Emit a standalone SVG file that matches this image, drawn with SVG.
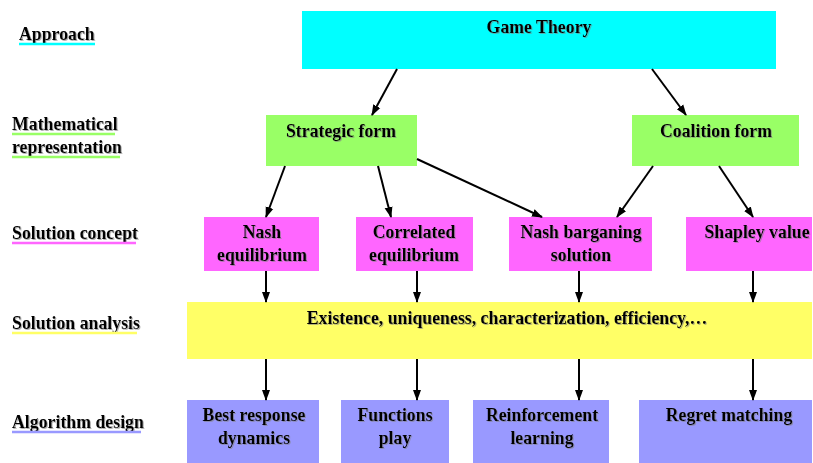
<svg xmlns="http://www.w3.org/2000/svg" width="813" height="463" viewBox="0 0 813 463">
<defs>
<marker id="ah" markerWidth="11" markerHeight="11" refX="10" refY="5.5" orient="auto" markerUnits="userSpaceOnUse">
<path d="M0,1.5 L11,5.5 L0,9.5 z" fill="#000"/>
</marker>
<filter id="sh" x="-5%" y="-20%" width="110%" height="140%">
<feDropShadow dx="1" dy="1" stdDeviation="0.5" flood-color="#808080" flood-opacity="0.6"/>
</filter>
</defs>
<style>
text{font-family:"Liberation Serif","Times New Roman",serif;font-weight:bold;font-size:17.8px;fill:#000;filter:url(#sh)}
.c{text-anchor:middle}
.gt{fill:#00ffff}
.gr{fill:#99ff66}
.mg{fill:#ff66ff}
.ye{fill:#ffff66}
.bl{fill:#9999ff}
.conn line{stroke:#000;stroke-width:2;marker-end:url(#ah)}
.ul{stroke-width:2.5}
</style>
<rect width="813" height="463" fill="#fff"/>

<g id="labels">
<text x="19" y="40">Approach</text>
<line class="ul" x1="19" y1="44" x2="95" y2="44" stroke="#00ffff"/>
<text x="12" y="130">Mathematical</text>
<line class="ul" x1="12" y1="134" x2="115" y2="134" stroke="#99ff66"/>
<text x="12" y="153">representation</text>
<line class="ul" x1="12" y1="157" x2="120" y2="157" stroke="#99ff66"/>
<text x="12" y="239">Solution concept</text>
<line class="ul" x1="12" y1="243" x2="136" y2="243" stroke="#ff66ff"/>
<text x="12" y="329">Solution analysis</text>
<line class="ul" x1="12" y1="333" x2="137" y2="333" stroke="#ffff66"/>
<text x="12" y="428">Algorithm design</text>
<line class="ul" x1="12" y1="432" x2="141" y2="432" stroke="#9999ff"/>
</g>

<g id="game-theory"><rect class="gt" x="302" y="11" width="474" height="58"/><text class="c" x="539" y="33">Game Theory</text></g>
<g id="strategic-form"><rect class="gr" x="266" y="115" width="151" height="51"/><text class="c" x="341" y="137">Strategic form</text></g>
<g id="coalition-form"><rect class="gr" x="632" y="115" width="167" height="51"/><text class="c" x="716" y="137">Coalition form</text></g>

<g id="nash-eq"><rect class="mg" x="204" y="217" width="115" height="54"/><text class="c" x="262" y="238">Nash</text><text class="c" x="262" y="261">equilibrium</text></g>
<g id="correlated-eq"><rect class="mg" x="356" y="217" width="117" height="54"/><text class="c" x="414" y="238">Correlated</text><text class="c" x="414" y="261">equilibrium</text></g>
<g id="nash-barg"><rect class="mg" x="509" y="217" width="143" height="54"/><text class="c" x="581" y="238">Nash barganing</text><text class="c" x="581" y="261">solution</text></g>
<g id="shapley"><rect class="mg" x="686" y="217" width="126" height="54"/><text class="c" x="757" y="238">Shapley value</text></g>

<g id="analysis"><rect class="ye" x="187" y="302" width="625" height="57"/><text class="c" x="507" y="324">Existence, uniqueness, characterization, efficiency,…</text></g>

<g id="best-response"><rect class="bl" x="187" y="400" width="132" height="63"/><text class="c" x="254" y="421">Best response</text><text class="c" x="254" y="444">dynamics</text></g>
<g id="functions-play"><rect class="bl" x="341" y="400" width="108" height="63"/><text class="c" x="395" y="421">Functions</text><text class="c" x="395" y="444">play</text></g>
<g id="reinforcement"><rect class="bl" x="473" y="400" width="136" height="63"/><text class="c" x="542" y="421">Reinforcement</text><text class="c" x="542" y="444">learning</text></g>
<g id="regret"><rect class="bl" x="639" y="400" width="173" height="63"/><text class="c" x="729" y="421">Regret matching</text></g>

<g class="conn" id="connectors">
<line x1="397" y1="69" x2="372" y2="115"/>
<line x1="652" y1="69" x2="686" y2="115"/>
<line x1="285" y1="166" x2="266" y2="217"/>
<line x1="378" y1="166" x2="391" y2="217"/>
<line x1="417" y1="159" x2="542" y2="217"/>
<line x1="653" y1="166" x2="617" y2="217"/>
<line x1="719" y1="166" x2="753" y2="217"/>
<line x1="266" y1="271" x2="266" y2="302"/>
<line x1="417" y1="271" x2="417" y2="302"/>
<line x1="579" y1="271" x2="579" y2="302"/>
<line x1="753" y1="271" x2="753" y2="302"/>
<line x1="266" y1="359" x2="266" y2="400"/>
<line x1="417" y1="359" x2="417" y2="400"/>
<line x1="579" y1="359" x2="579" y2="400"/>
<line x1="753" y1="359" x2="753" y2="400"/>
</g>
</svg>
